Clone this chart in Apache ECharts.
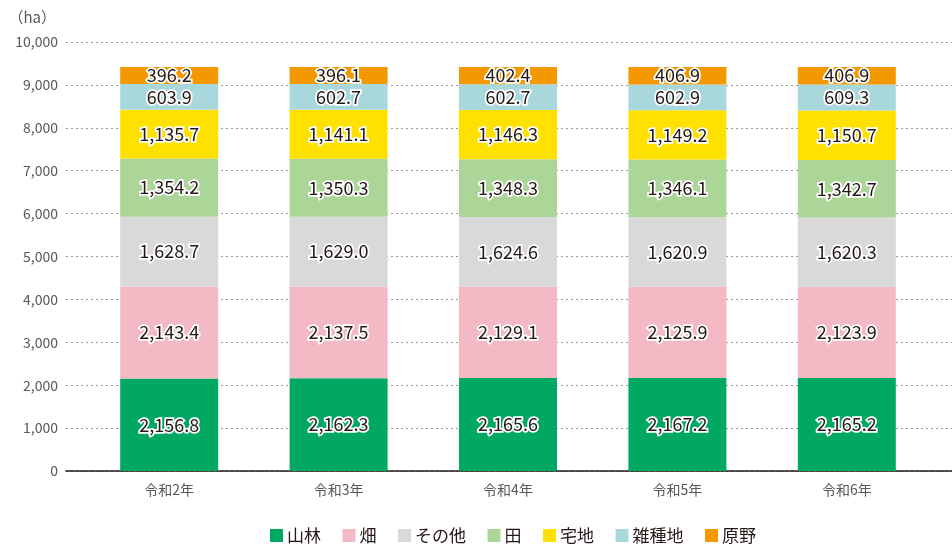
<!DOCTYPE html>
<html><head><meta charset="utf-8">
<script src="https://cdn.jsdelivr.net/npm/echarts@6/dist/echarts.min.js"></script>
<style>html,body{margin:0;padding:0;background:#fff}#c{width:952px;height:544px}</style>
</head><body><div id="c"></div>
<script>
const categories = ['令和2年','令和3年','令和4年','令和5年','令和6年'];
const seriesNames = ['山林','畑','その他','田','宅地','雑種地','原野'];
const sanrin = [2156.8, 2162.3, 2165.6, 2167.2, 2165.2];
const hata = [2143.4, 2137.5, 2129.1, 2125.9, 2123.9];
const sonota = [1628.7, 1629.0, 1624.6, 1620.9, 1620.3];
const ta = [1354.2, 1350.3, 1348.3, 1346.1, 1342.7];
const takuchi = [1135.7, 1141.1, 1146.3, 1149.2, 1150.7];
const zasshu = [603.9, 602.7, 602.7, 602.9, 609.3];
const genya = [396.2, 396.1, 402.4, 406.9, 406.9];
const seriesData = [sanrin, hata, sonota, ta, takuchi, zasshu, genya];
const colors = ['#00a862','#f3bac6','#d9d9d9','#acd598','#ffe100','#a8d8dc','#f39800'];
const FONT = '"Noto Sans CJK JP","Noto Sans",sans-serif';

const chart = echarts.init(document.getElementById('c'), null, {renderer:'canvas'});
const fmt = v => v.toLocaleString('en-US',{minimumFractionDigits:1,maximumFractionDigits:1});
chart.setOption({
  animation:false,
  color: colors,
  textStyle:{fontFamily:FONT},
  grid:[
    {left:66, right:0, top:42, bottom:73},
    {left:84.5, right:20.5, top:42, bottom:73}
  ],
  legend:{
    top:522, left:265, itemWidth:13, itemHeight:13, itemGap:21.5,
    icon:'rect',
    textStyle:{fontSize:17, color:'#231815', fontFamily:FONT, padding:[0,0,0,-1]},
    data: seriesNames
  },
  xAxis:[
    {gridIndex:0, type:'category', data:categories, show:true,
     axisLine:{show:true, lineStyle:{color:'#231815', width:1.5}},
     axisTick:{show:false}, axisLabel:{show:false}},
    {gridIndex:1, type:'category', data:categories,
     axisLine:{show:false}, axisTick:{show:false},
     axisLabel:{color:'#595757', fontSize:14, margin:12, fontFamily:FONT}}
  ],
  yAxis:[
    {gridIndex:0, type:'value', min:0, max:10000, interval:1000,
     name:'（ha）', nameLocation:'end', nameGap:17,
     nameTextStyle:{color:'#595757', fontSize:15, align:'right', padding:[0,10,0,0]},
     axisLine:{show:false}, axisTick:{show:false},
     axisLabel:{color:'#595757', fontSize:14, margin:8, formatter:v=>v.toLocaleString('en-US')},
     splitLine:{show:true, lineStyle:{color:'#9a9a9a', type:[2,3], width:1}}},
    {gridIndex:1, type:'value', min:0, max:10000, interval:1000, show:false,
     splitLine:{show:false}}
  ],
  series: seriesNames.map((n,i)=>({
    name:n, type:'bar', stack:'a', xAxisIndex:1, yAxisIndex:1,
    barWidth:98, data: seriesData[i],
    itemStyle:{color:colors[i]},
    label:{show:true, position:'inside', formatter:p=>fmt(p.value),
      color:'#231815', fontSize:18, fontFamily:FONT,
      textBorderColor:'#fff', textBorderWidth:3.5}
  }))
});
</script></body></html>
